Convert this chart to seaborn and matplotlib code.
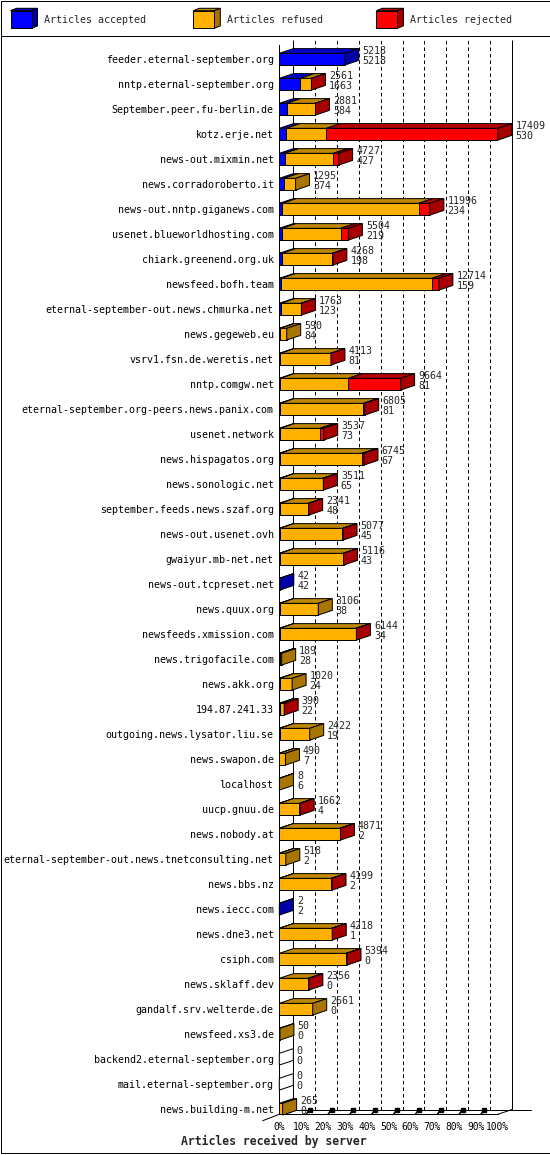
import numpy as np
import pandas as pd
import matplotlib
matplotlib.use("Agg")
import matplotlib.pyplot as plt
from matplotlib.patches import Polygon, Rectangle
import seaborn as sns

# ---------------- data ----------------
servers = [
    "feeder.eternal-september.org", "nntp.eternal-september.org",
    "September.peer.fu-berlin.de", "kotz.erje.net", "news-out.mixmin.net",
    "news.corradoroberto.it", "news-out.nntp.giganews.com",
    "usenet.blueworldhosting.com", "chiark.greenend.org.uk", "newsfeed.bofh.team",
    "eternal-september-out.news.chmurka.net", "news.gegeweb.eu",
    "vsrv1.fsn.de.weretis.net", "nntp.comgw.net",
    "eternal-september.org-peers.news.panix.com", "usenet.network",
    "news.hispagatos.org", "news.sonologic.net", "september.feeds.news.szaf.org",
    "news-out.usenet.ovh", "gwaiyur.mb-net.net", "news-out.tcpreset.net",
    "news.quux.org", "newsfeeds.xmission.com", "news.trigofacile.com",
    "news.akk.org", "194.87.241.33", "outgoing.news.lysator.liu.se",
    "news.swapon.de", "localhost", "uucp.gnuu.de", "news.nobody.at",
    "eternal-september-out.news.tnetconsulting.net", "news.bbs.nz",
    "news.iecc.com", "news.dne3.net", "csiph.com", "news.sklaff.dev",
    "gandalf.srv.welterde.de", "newsfeed.xs3.de",
    "backend2.eternal-september.org", "mail.eternal-september.org",
    "news.building-m.net",
]
accepted = [5218, 1663, 584, 530, 427, 374, 234, 219, 198, 159,
            123, 84, 81, 81, 81, 73, 67, 65, 48, 45,
            43, 42, 38, 34, 28, 24, 22, 19, 7, 6,
            4, 2, 2, 2, 2, 1, 0, 0, 0, 0,
            0, 0, 0]
refused = [0, 880, 2280, 3219, 3877, 921, 10874, 4669, 4020, 12004,
           1620, 506, 4000, 5417, 6620, 3160, 6500, 3400, 2250, 4990,
           5030, 0, 3068, 6070, 161, 996, 320, 2403, 483, 2,
           1600, 4810, 516, 4150, 0, 4170, 5330, 2310, 2661, 50,
           0, 0, 265]
rejected = [0, 18, 17, 13660, 423, 0, 888, 616, 50, 551,
            20, 0, 32, 4166, 104, 304, 178, 46, 43, 42,
            43, 0, 0, 40, 0, 0, 48, 0, 0, 0,
            58, 59, 0, 47, 0, 47, 64, 46, 0, 0,
            0, 0, 0]
tick_labels = ["0%", "10%", "20%", "30%", "40%", "50%",
               "60%", "70%", "80%", "90%", "100%"]
legend_labels = ["Articles accepted", "Articles refused", "Articles rejected"]
axis_title = "Articles received by server"

# ---------------- style ----------------
FRONT = {"acc": "#0000FF", "ref": "#FFB000", "rej": "#FF0000"}
TOP = {"acc": "#0000C8", "ref": "#C08800", "rej": "#B80000"}
SIDE = {"acc": "#0000A8", "ref": "#A87600", "rej": "#A80000"}
LW = 0.72          # 1 px
FS = 7.2
MONO = ["DejaVu Sans Mono"]

sns.set_style("white")
plt.rcParams["font.family"] = MONO
plt.rcParams["font.size"] = FS

W, H = 550, 1155
fig = plt.figure(figsize=(W / 100, H / 100), dpi=100)

# pixel geometry of the 3-D box
X0, X1 = 279.3, 497.8          # front 0% .. 100%
Y_TOP, Y_FLOOR = 40.0, 1114.3  # top of wall, front floor line
ROW0, ROW_STEP = 59.2, 25.0    # centre of first row, spacing
DX_PX, DY_PX = 14.0, 4.7       # depth offset

# background axes in pixel coordinates (frame + legend)
bg = fig.add_axes([0, 0, 1, 1], zorder=0)
bg.set_xlim(0, W)
bg.set_ylim(H, 0)
bg.axis("off")
bg.add_patch(Rectangle((0.5, 0.5), W - 1, H - 2.5, fill=False, lw=LW, ec="black"))
bg.plot([0.5, W - 0.5], [35.5, 35.5], color="black", lw=LW)

leg_keys = ["acc", "ref", "rej"]
leg_x = [10.5, 193.3, 376.4]
bw, bh, ddx_l, ddy_l = 21.0, 17.6, 6.0, 2.4
for key, x, lab in zip(leg_keys, leg_x, legend_labels):
    yt, yb = 10.7, 10.7 + bh
    bg.add_patch(Polygon([(x, yt), (x + bw, yt), (x + bw + ddx_l, yt - ddy_l), (x + ddx_l, yt - ddy_l)],
                         closed=True, fc=TOP[key], ec="black", lw=LW))
    bg.add_patch(Polygon([(x + bw, yt), (x + bw, yb), (x + bw + ddx_l, yb - ddy_l), (x + bw + ddx_l, yt - ddy_l)],
                         closed=True, fc=SIDE[key], ec="black", lw=LW))
    bg.add_patch(Rectangle((x, yt), bw, bh, fc=FRONT[key], ec="black", lw=LW))
    bg.text(x + 34.0, 20.0, lab, va="center", ha="left", fontsize=FS)

# main axes
ax = fig.add_axes([X0 / W, 1 - Y_FLOOR / H, (X1 - X0) / W, (Y_FLOOR - Y_TOP) / H], zorder=1)
ax.patch.set_alpha(0)

df = pd.DataFrame({"server": servers, "accepted": accepted,
                   "refused": refused, "rejected": rejected})
df["total"] = df["accepted"] + df["refused"] + df["rejected"]
vmax = df["total"].max()
df["acc_pct"] = df["accepted"] / vmax * 100
df["accref_pct"] = (df["accepted"] + df["refused"]) / vmax * 100
df["tot_pct"] = df["total"] / vmax * 100

BAR_W = 0.47
for col, key in [("tot_pct", "rej"), ("accref_pct", "ref"), ("acc_pct", "acc")]:
    sns.barplot(data=df, x=col, y="server", orient="h", order=servers,
                color=FRONT[key], saturation=1, width=BAR_W, errorbar=None,
                edgecolor="black", linewidth=LW, ax=ax, zorder=2)

y_top_lim = (Y_TOP - ROW0) / ROW_STEP
y_bot_lim = (Y_FLOOR - ROW0) / ROW_STEP
ax.set_xlim(0, 100)
ax.set_ylim(y_bot_lim, y_top_lim)
ddx = DX_PX / (X1 - X0) * 100
ddy = DY_PX / ROW_STEP
floor_back = y_bot_lim - ddy

# back wall
ax.vlines([ddx, 100 + ddx], floor_back, y_top_lim, colors="black", lw=LW, zorder=0.5, clip_on=False)
ax.vlines([k * 10 + ddx for k in range(1, 10)], floor_back, y_top_lim, colors="black",
          lw=LW, linestyles=(0, (3.6, 2.9)), zorder=0.5, clip_on=False)
# floor
px = 100 / (X1 - X0)
ax.plot([ddx, 100 + ddx + 19 * px], [floor_back, floor_back], color="black", lw=LW, clip_on=False, zorder=0.6)
ax.plot([100, 100 + ddx], [y_bot_lim, floor_back], color="black", lw=LW, clip_on=False, zorder=0.6)
ax.plot([-16.6 * px, 0], [y_bot_lim + 6.4 / ROW_STEP, y_bot_lim], color="black", lw=LW, clip_on=False, zorder=0.6)
for k in range(10):
    xs = k * 10
    ax.plot([xs + 5 * px, xs + 8.5 * px], [y_bot_lim, floor_back], color="black", lw=1.1,
            clip_on=False, zorder=0.7)
    ax.plot([xs + 8.5 * px], [floor_back + 0.03], marker="s", ms=2.3, color="black",
            clip_on=False, zorder=0.7)

# 3-D faces of the bars
h = BAR_W / 2
for i, r in df.iterrows():
    yt, yb = i - h, i + h
    segs = [(0.0, r.acc_pct, "acc"), (r.acc_pct, r.accref_pct, "ref"), (r.accref_pct, r.tot_pct, "rej")]
    last = None
    for a, b, key in segs:
        if b > a:
            ax.add_patch(Polygon([(a, yt), (b, yt), (b + ddx, yt - ddy), (a + ddx, yt - ddy)],
                                 closed=True, fc=TOP[key], ec="black", lw=LW, zorder=3, clip_on=False))
            last = key
    e = r.tot_pct
    ax.add_patch(Polygon([(e, yt), (e, yb), (e + ddx, yb - ddy), (e + ddx, yt - ddy)],
                         closed=True, fc=SIDE[last] if last else "white", ec="black",
                         lw=LW, zorder=3, clip_on=False))
    tx = e + ddx + 3.5 * px
    ax.text(tx, i - (9.2 - 3.65) / ROW_STEP, f"{int(r.total)}", ha="left", va="baseline",
            fontsize=FS, clip_on=False, zorder=4)
    ax.text(tx, i + (1.0 + 3.65) / ROW_STEP, f"{int(r.accepted)}", ha="left", va="baseline",
            fontsize=FS, clip_on=False, zorder=4)

# spines / ticks
for s in ["top", "right"]:
    ax.spines[s].set_visible(False)
ax.spines["left"].set_bounds(y_bot_lim, y_top_lim + ddy)
ax.spines["bottom"].set_bounds(0, 100)
for s in ["left", "bottom"]:
    ax.spines[s].set_linewidth(LW)
    ax.spines[s].set_color("black")
    ax.spines[s].set_zorder(1.5)
ax.set_xticks(np.arange(0, 101, 10))
ax.set_xticklabels(tick_labels)
ax.tick_params(axis="x", direction="out", length=2.9, width=LW, pad=3.0, labelsize=6.9, colors="black")
ax.tick_params(axis="y", length=0, pad=4.1, labelsize=FS, colors="black")
ax.set_ylabel("")
ax.set_xlabel(axis_title, fontsize=8.3, fontweight="bold", va="center", ha="center")
ax.xaxis.set_label_coords((273.6 - X0) / (X1 - X0), -(1141.7 - Y_FLOOR) / (Y_FLOOR - Y_TOP))

fig.savefig("out.png", dpi=100)
